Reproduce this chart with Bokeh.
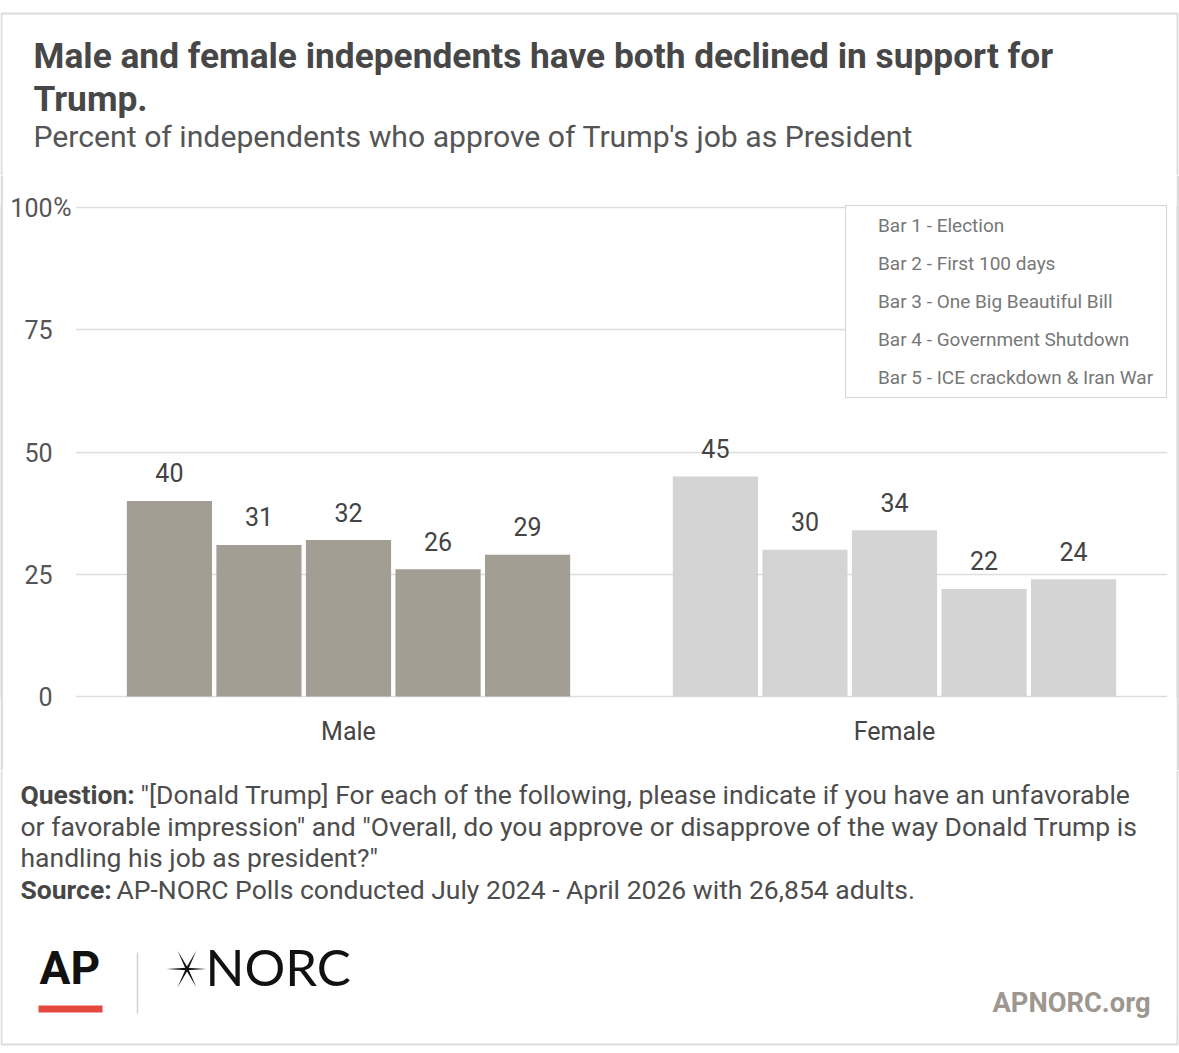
from bokeh.plotting import figure
from bokeh.layouts import column, row
from bokeh.models import (FactorRange, Range1d, ColumnDataSource, FixedTicker, Label,
                          Legend, LegendItem, LinearAxis)
from bokeh.transform import dodge
from bokeh.core.properties import value
from bokeh.embed import file_html
from bokeh.resources import INLINE

# ---------------- data ----------------
groups = ["Male", "Female"]
periods = ["Bar 1 - Election", "Bar 2 - First 100 days", "Bar 3 - One Big Beautiful Bill",
           "Bar 4 - Government Shutdown", "Bar 5 - ICE crackdown & Iran War"]
male = [40, 31, 32, 26, 29]
female = [45, 30, 34, 22, 24]
group_colors = ["#a39e93", "#d4d4d4"]
y_ticks = [0, 25, 50, 75, 100]

title_lines = ["Male and female independents have both declined in support for", "Trump."]
subtitle = "Percent of independents who approve of Trump's job as President"
note_q_label = "Question:"
note_q_lines = ["\"[Donald Trump] For each of the following, please indicate if you have an unfavorable",
                "or favorable impression\" and \"Overall, do you approve or disapprove of the way Donald Trump is",
                "handling his job as president?\""]
note_s_label = "Source:"
note_s_text = "AP-NORC Polls conducted July 2024 - April 2026 with 26,854 adults."

FONT = "Roboto"
BORDER = "#dcdcdc"
PAGE_W = 1179
HEAD_H = 175
MAIN_H = 595
FOOT_H = 280
STRIP_W = 3


def blank_fig(w, h, y0, bg="white"):
    """A figure whose frame fills the canvas; data coords == page pixel coords."""
    f = figure(width=w, height=h, x_range=Range1d(0, w), y_range=Range1d(y0 + h, y0),
               x_axis_type=None, y_axis_type=None, output_backend="svg", toolbar_location=None,
               min_border=0, min_border_left=0, min_border_right=0, min_border_top=0,
               min_border_bottom=0)
    f.grid.visible = False
    f.outline_line_color = None
    f.background_fill_color = bg
    f.border_fill_color = bg
    return f


def lab(f, text, X, Y, size, color, bold=False, font=FONT, align="left"):
    # Y is the visual centre of the capitals
    f.add_layout(Label(x=X, y=Y, text=text, text_font=font, text_font_size=f"{size}px",
                       text_font_style="bold" if bold else "normal", text_color=color,
                       text_align=align, text_baseline="alphabetic"))


# ---------------- header ----------------
head = blank_fig(PAGE_W, HEAD_H, 0)
head.line([1, 1, 1177, 1177], [HEAD_H, 13, 13, HEAD_H], line_color=BORDER, line_width=2)
lab(head, title_lines[0], 33, 55, 35.3, "#474747", bold=True)
lab(head, title_lines[1], 33, 98, 35.3, "#474747", bold=True)
lab(head, subtitle, 33, 136, 30.2, "#555555")

# ---------------- main chart ----------------
data = dict(group=groups, color=group_colors)
for i in range(len(periods)):
    data[f"v{i}"] = [male[i], female[i]]
    data[f"t{i}"] = [str(male[i]), str(female[i])]
src = ColumnDataSource(data)

MAIN_W = 1176 - STRIP_W
# a hair of padding so the 0 and 100 grid lines are not cut by the frame edge
p = figure(x_range=FactorRange(*groups, range_padding=0), y_range=Range1d(-0.41, 100.41),
           width=MAIN_W, height=MAIN_H, output_backend="svg", toolbar_location=None,
           min_border_left=75 - STRIP_W, min_border_right=9, min_border_top=30, min_border_bottom=72)
p.outline_line_color = None
p.background_fill_color = "white"
p.border_fill_color = "white"

# inner left axis: only the "%" suffix at the 100 tick
p.yaxis.ticker = FixedTicker(ticks=[100])
p.yaxis.major_label_overrides = {100: "%"}
p.yaxis.major_label_standoff = 4
p.yaxis.axis_label_standoff = 0
# outer left axis: the numbers
ynum = LinearAxis(ticker=FixedTicker(ticks=y_ticks), major_label_standoff=-2, axis_label_standoff=0)
p.add_layout(ynum, "left")
for ax in (p.yaxis[0], ynum):
    ax.axis_line_color = None
    ax.major_tick_line_color = None
    ax.minor_tick_line_color = None
    ax.major_tick_out = 0
    ax.major_tick_in = 0
    ax.major_label_text_font = FONT
    ax.major_label_text_font_size = "25px"
    ax.major_label_text_color = "#555555"

p.xaxis.axis_line_color = None
p.xaxis.major_tick_line_color = None
p.xaxis.major_tick_out = 0
p.xaxis.major_tick_in = 0
p.xaxis.major_label_standoff = 18
p.xaxis.major_label_text_font = FONT
p.xaxis.major_label_text_font_size = "25px"
p.xaxis.major_label_text_color = "#444444"

p.ygrid.ticker = FixedTicker(ticks=y_ticks)
p.ygrid.grid_line_color = "#dddddd"
p.ygrid.grid_line_width = 1.5
p.xgrid.grid_line_color = None

step = 0.164
bar_w = 0.156
renderers = []
for i in range(len(periods)):
    off = (i - 2) * step
    r = p.vbar(x=dodge("group", off, range=p.x_range), top=f"v{i}", bottom=0, width=bar_w, source=src,
               fill_color="color", line_color=None)
    renderers.append(r)
    p.text(x=dodge("group", off, range=p.x_range), y=f"v{i}", text=f"t{i}", source=src,
           text_align="center", text_baseline="alphabetic", y_offset=-28,
           text_font=value(FONT), text_font_size="25px", text_color="#444444")

legend = Legend(items=[LegendItem(label=periods[i], renderers=[renderers[i]]) for i in range(len(periods))],
                location="top_right", margin=0, padding=8, spacing=15,
                glyph_width=0, glyph_height=22, label_height=22, label_width=280, label_standoff=24,
                label_text_font=FONT, label_text_font_size="19px", label_text_color="#777777",
                border_line_color="#aaaaaa", border_line_width=1.5, background_fill_color="white",
                background_fill_alpha=1.0)
p.add_layout(legend)


def strip(w, h):
    """Narrow figure carrying one vertical piece of the outer frame line."""
    s = figure(width=w, height=h, x_range=Range1d(0, w), y_range=Range1d(0, h),
               x_axis_type=None, y_axis_type=None, output_backend="svg",
               toolbar_location=None, min_border=0, min_border_left=0, min_border_right=0,
               min_border_top=0, min_border_bottom=0)
    s.grid.visible = False
    s.outline_line_color = None
    s.background_fill_color = BORDER
    s.border_fill_color = BORDER
    s.quad(left=[0], right=[w], bottom=[0], top=[h], fill_color=BORDER, line_color=None)
    return s


strip_l = strip(STRIP_W, MAIN_H)
strip_r = strip(STRIP_W, MAIN_H)

# ---------------- footer ----------------
FY = HEAD_H + MAIN_H
foot = blank_fig(PAGE_W, FOOT_H, FY)
foot.line([1, 1, 1177, 1177], [FY, 1044, 1044, FY], line_color=BORDER, line_width=2)

NOTE = 26.5
lab(foot, note_q_label, 20, 794, NOTE, "#474747", bold=True)
lab(foot, note_q_lines[0], 140, 794, NOTE, "#4d4d4d")
lab(foot, note_q_lines[1], 20, 826, NOTE, "#4d4d4d")
lab(foot, note_q_lines[2], 20, 857, NOTE, "#4d4d4d")
lab(foot, note_s_label, 20, 889, NOTE, "#474747", bold=True)
lab(foot, note_s_text, 116, 889, NOTE, "#4d4d4d")

# logos
lab(foot, "AP", 39, 967, 46, "#111111", bold=True)
foot.quad(left=[38], right=[102], top=[1005], bottom=[1012], fill_color="#e4483e", line_color=None)
foot.segment(x0=[137], y0=[952], x1=[137], y1=[1013], line_color="#d0d0d0", line_width=1.5)


def stroke(x0, y0, x1, y1, w):
    mx, my = (x0 + x1) / 2, (y0 + y1) / 2
    dx, dy = x1 - x0, y1 - y0
    ln = (dx * dx + dy * dy) ** 0.5
    px, py = -dy / ln * w, dx / ln * w
    return [x0, mx + px, x1, mx - px], [y0, my + py, y1, my - py]


star = [stroke(166, 968.5, 206, 968.5, 1.3), stroke(177, 950, 196, 987, 1.3), stroke(196, 950, 177, 987, 1.3)]
foot.patches(xs=[s[0] for s in star], ys=[s[1] for s in star], fill_color="#111111", line_color=None)
lab(foot, "NORC", 205, 966, 51, "#111111", font="Lato")
lab(foot, "APNORC.org", 1150, 1002, 27.3, "#9d978f", bold=True, align="right")

layout = column(head, row(strip_l, p, strip_r, spacing=0), foot, spacing=0)
open("out.html", "w").write(file_html(layout, INLINE))
